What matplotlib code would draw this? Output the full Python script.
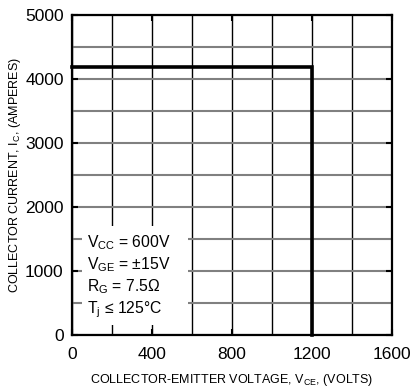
import matplotlib
matplotlib.use("Agg")
import matplotlib.pyplot as plt
from matplotlib.patches import Rectangle
from matplotlib.ticker import MultipleLocator

# Data
vce = [0, 1200, 1200]
ic = [4180, 4180, 0]
x_ticks = [0, 400, 800, 1200, 1600]
y_ticks = [0, 1000, 2000, 3000, 4000, 5000]
conditions = [r"V$_{\mathrm{CC}}$ = 600V",
              r"V$_{\mathrm{GE}}$ = ±15V",
              r"R$_{\mathrm{G}}$ = 7.5Ω",
              r"T$_{\mathrm{j}}$ ≤ 125°C"]

plt.rcParams['font.family'] = ['Liberation Sans', 'DejaVu Sans']
plt.rcParams['mathtext.fontset'] = 'custom'
plt.rcParams['mathtext.rm'] = 'Liberation Sans'
plt.rcParams['mathtext.it'] = 'Liberation Sans:italic'

fig = plt.figure(figsize=(4.14, 3.87), dpi=100)
ax = fig.add_axes([72/414, 52/387, 320/414, 320/387])

ax.set_xlim(0, 1600)
ax.set_ylim(0, 5000)
ax.set_xticks(x_ticks)
ax.set_yticks(y_ticks)
ax.xaxis.set_minor_locator(MultipleLocator(200))
ax.yaxis.set_minor_locator(MultipleLocator(500))

ax.grid(True, which='both', axis='x', color='black', linewidth=1.0, zorder=1)
ax.grid(True, which='both', axis='y', color='#808080', linewidth=1.5, zorder=1)
ax.set_axisbelow(True)

# white box behind the conditions text
ax.add_patch(Rectangle((50, 156), 530, 1544, facecolor='white', edgecolor='none', zorder=2))

ax.plot(vce, ic, color='black', linewidth=2.6, zorder=4, solid_joinstyle='miter', clip_on=False)

ax.tick_params(which='major', direction='in', length=4.5, width=1.5, labelsize=12.5,
               top=True, right=True, colors='black')
ax.tick_params(axis='y', which='major', pad=6)
ax.tick_params(axis='x', which='major', pad=8.5)
ax.tick_params(which='minor', length=0)
for s in ax.spines.values():
    s.set_linewidth(1.6)
    s.set_zorder(5)

ys = [1375, 1030, 690, 345]
for t, y in zip(conditions, ys):
    ax.text(75, y, t, fontsize=11.3, va='baseline', ha='left', zorder=3)

ax.set_xlabel(r"COLLECTOR-EMITTER VOLTAGE, V$_{\mathrm{CE}}$, (VOLTS)", fontsize=9)
ax.xaxis.set_label_coords(0.5, -0.115)
ax.set_ylabel(r"COLLECTOR CURRENT, I$_{\mathrm{C}}$, (AMPERES)", fontsize=9)
ax.yaxis.set_label_coords(-0.153, 0.5)

fig.savefig("out.png", dpi=100)
